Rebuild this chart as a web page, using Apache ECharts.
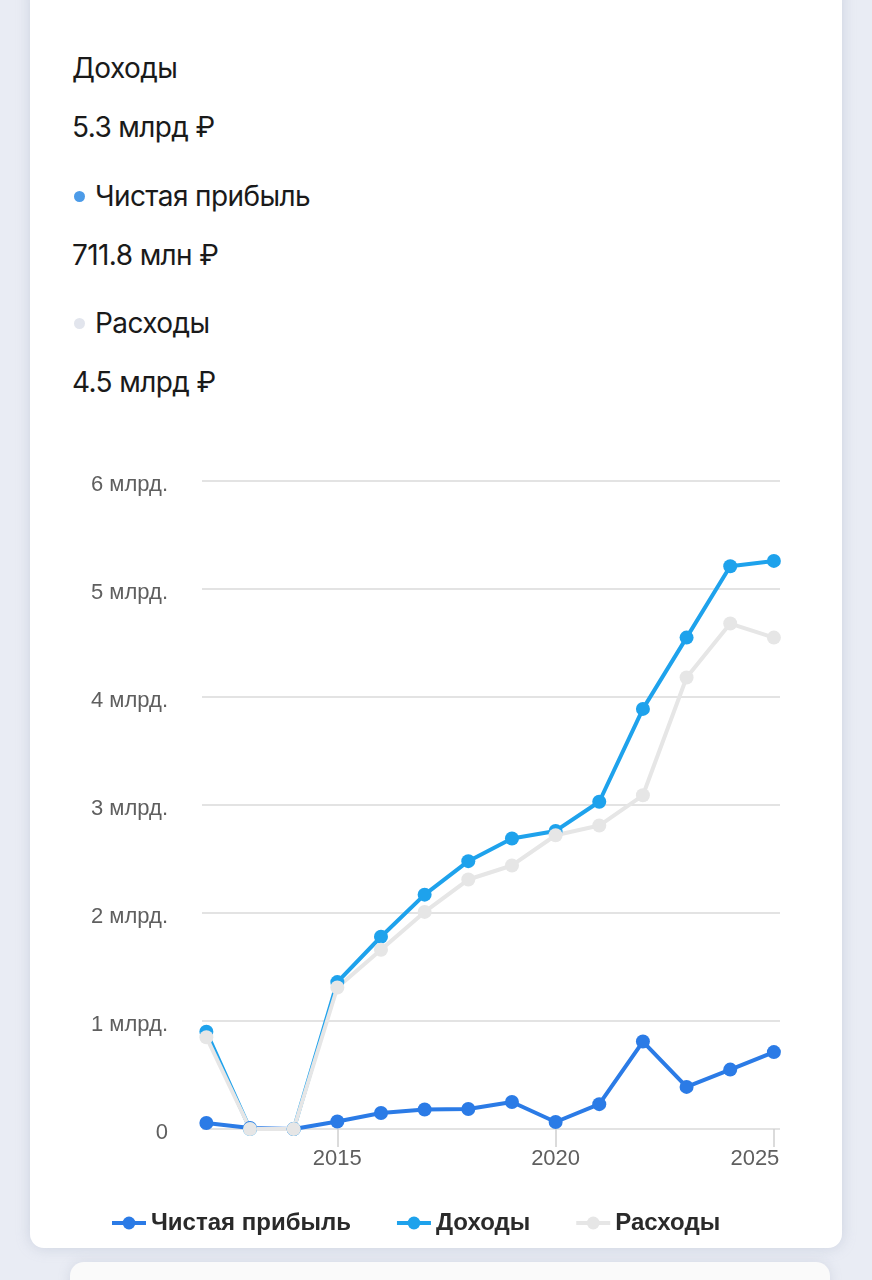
<!DOCTYPE html>
<html>
<head>
<meta charset="utf-8">
<script src="https://cdn.jsdelivr.net/npm/echarts@6/dist/echarts.min.js"></script>
<style>
  html, body { margin: 0; padding: 0; width: 872px; height: 1280px; background: #e9ecf4; overflow: hidden; }
  #card { position: absolute; left: 30px; top: -20px; width: 812px; height: 1268px; background: #ffffff; border-radius: 14px; box-shadow: 0 0 14px rgba(150,160,185,0.35); }
  #next { position: absolute; left: 70px; top: 1262px; width: 760px; height: 60px; background: #fafafa; border-radius: 14px; box-shadow: 0 0 12px rgba(150,160,185,0.25); }
  .t { position: absolute; left: 72px; font-family: Inter, "Noto Sans", sans-serif; font-size: 28px; color: #1a1a1a; line-height: 34px; white-space: nowrap; letter-spacing: -0.6px; }
  .dot { display: inline-block; width: 11px; height: 11px; border-radius: 50%; margin-right: 10px; margin-left: 2px; vertical-align: middle; position: relative; top: -2px; }
  #chart { position: absolute; left: 0; top: 0; width: 872px; height: 1280px; }
</style>
</head>
<body>
<div id="card"></div>
<div id="next"></div>
<div class="t" style="top:51px">Доходы</div>
<div class="t" style="top:110px">5.3 млрд ₽</div>
<div class="t" style="top:179px"><span class="dot" style="background:#4c9be8"></span>Чистая прибыль</div>
<div class="t" style="top:238px">711.8 млн ₽</div>
<div class="t" style="top:306px"><span class="dot" style="background:#e2e5ed"></span>Расходы</div>
<div class="t" style="top:365px">4.5 млрд ₽</div>
<div id="chart"></div>
<script>
const years = [2012, 2013, 2014, 2015, 2016, 2017, 2018, 2019, 2020, 2021, 2022, 2023, 2024, 2025];
const seriesNames = ['Чистая прибыль', 'Доходы', 'Расходы'];
// values in billions of rubles
const netProfit = [0.055, 0.01, 0.0, 0.07, 0.148, 0.18, 0.185, 0.25, 0.065, 0.23, 0.81, 0.39, 0.55, 0.712];
const revenue   = [0.90, 0.0, 0.0, 1.36, 1.78, 2.17, 2.48, 2.69, 2.76, 3.03, 3.89, 4.55, 5.21, 5.26];
const expenses  = [0.85, 0.0, 0.0, 1.31, 1.66, 2.01, 2.31, 2.44, 2.72, 2.81, 3.09, 4.18, 4.68, 4.55];
const yTicks = [0, 1, 2, 3, 4, 5, 6];
const xTickLabels = [2015, 2020, 2025];

const colors = ['#2b7be6', '#1ea2ec', '#e6e6e6'];
const pair = arr => years.map((y, i) => [y, arr[i]]);
const dataSets = [netProfit, revenue, expenses];
const FONT = 'Liberation Sans, Arial, sans-serif';

const chart = echarts.init(document.getElementById('chart'), null, { renderer: 'canvas' });
chart.setOption({
  animation: false,
  color: colors,
  grid: { left: 202, right: 92, top: 481, bottom: 151, containLabel: false },
  legend: {
    left: 105, top: 1206,
    itemWidth: 34, itemHeight: 16, itemGap: 44,
    lineStyle: { width: 4 },
    textStyle: { fontFamily: FONT, fontWeight: 'bold', fontSize: 24, color: '#2a2a2a' },
    data: seriesNames
  },
  xAxis: {
    type: 'value', min: 2011.9, max: 2025.14,
    splitLine: { show: false },
    axisLine: { show: false },
    axisTick: { show: true, customValues: xTickLabels, length: 18, lineStyle: { color: '#cfcfcf', width: 1.5 } },
    axisLabel: {
      show: true, customValues: xTickLabels,
      fontFamily: FONT, fontSize: 22, color: '#5f5f5f', margin: 19,
      formatter: v => {
        const r = Math.round(v);
        return r === 2025 ? '{e|' + r + '}' : String(r);
      },
      rich: { e: { fontFamily: FONT, fontSize: 22, color: '#5f5f5f', padding: [0, 38, 0, 0] } }
    }
  },
  yAxis: {
    type: 'value', min: 0, max: 6, interval: 1,
    splitLine: { lineStyle: { color: '#e3e3e3', width: 2 } },
    axisLine: { show: false }, axisTick: { show: false },
    axisLabel: {
      fontFamily: FONT, fontSize: 22, color: '#5f5f5f', margin: 34,
      formatter: v => (yTicks.indexOf(v) < 0 ? '' : '{a|' + (v === 0 ? '0' : v + ' млрд.') + '}'),
      rich: { a: { fontFamily: FONT, fontSize: 22, color: '#5f5f5f', padding: [8, 0, 0, 0] } }
    }
  },
  series: seriesNames.map((n, k) => ({
    name: n, type: 'line', data: pair(dataSets[k]),
    symbol: 'circle', symbolSize: 14, clip: false,
    lineStyle: { width: 4, color: colors[k] },
    itemStyle: { color: colors[k] }
  }))
});
</script>
</body>
</html>
